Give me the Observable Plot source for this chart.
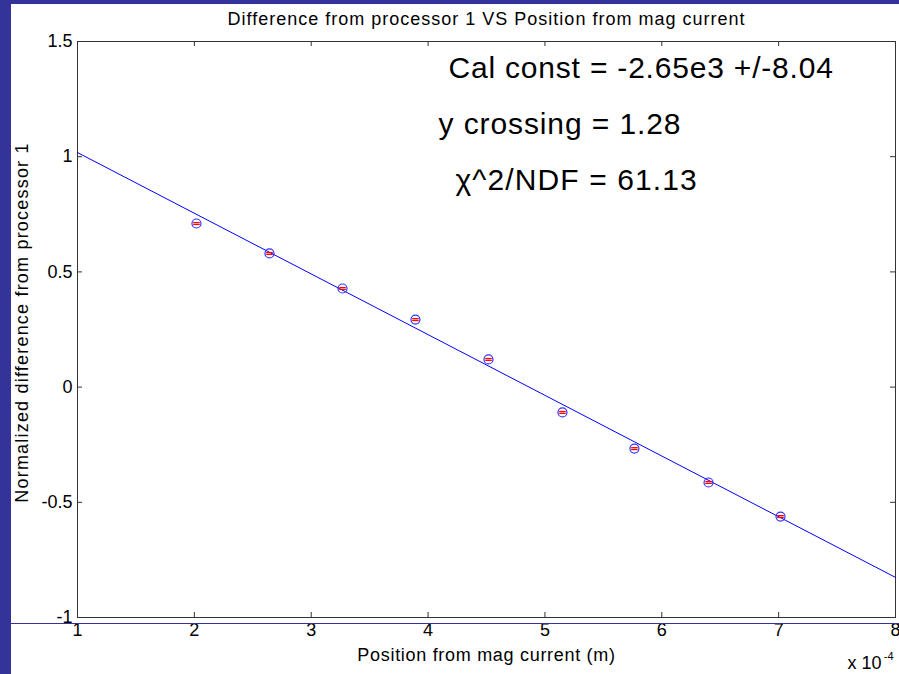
<!DOCTYPE html>
<html>
<head>
<meta charset="utf-8">
<script src="https://cdn.jsdelivr.net/npm/d3@7"></script>
<script src="https://cdn.jsdelivr.net/npm/@observablehq/plot@0.6"></script>
<style>
  html, body { margin: 0; padding: 0; background: #333399; width: 899px; height: 674px; overflow: hidden; }
  #panel { position: absolute; left: 11px; top: 4px; width: 888px; height: 670px; background: #fff; }
  #hline { position: absolute; left: 11px; top: 623px; width: 888px; height: 1px; background: #333399; }
  svg { font-family: "Liberation Sans", Arial, sans-serif; }
</style>
</head>
<body>
<div id="panel"></div>
<div id="hline"></div>
<script>
// Data (x in units of 1e-4 m)
const posX = [2.018, 2.643, 3.268, 3.892, 4.517, 5.150, 5.766, 6.400, 7.016];
const diffY = [0.710, 0.580, 0.428, 0.293, 0.120, -0.110, -0.267, -0.414, -0.562];
const errY = [0.004, 0.004, 0.004, 0.004, 0.004, 0.004, 0.004, 0.004, 0.004];
const fitX = [1, 8];
const fitY = [1.018, -0.826];
const xTicks = [1, 2, 3, 4, 5, 6, 7, 8];
const yTicks = [-1, -0.5, 0, 0.5, 1, 1.5];
const titleText = ["Difference from processor 1 VS Position from mag current"];
const xLabel = ["Position from mag current (m)"];
const yLabel = ["Normalized difference from processor 1"];
const annot1 = ["Cal const = -2.65e3 +/-8.04"];
const annot2 = ["y crossing = 1.28"];
const annot3 = ["\u03C7^2/NDF = 61.13"];

const points = posX.map((x, i) => ({x, y: diffY[i], e: errY[i]}));
const fit = fitX.map((x, i) => ({x, y: fitY[i]}));

const W = 888, H = 670;
const mL = 66, mR = 4, mT = 37, mB = 57;
const pw = W - mL - mR, ph = H - mT - mB;
const axisColor = "#333";

const chart = Plot.plot({
  width: W, height: H,
  marginLeft: mL, marginRight: mR, marginTop: mT, marginBottom: mB,
  style: {fontFamily: "'Liberation Sans', Arial, sans-serif", fontSize: "18px", background: "transparent", overflow: "visible"},
  x: {domain: [1, 8], axis: null},
  y: {domain: [-1, 1.5], axis: null},
  marks: [
    Plot.frame({stroke: axisColor}),
    // inward ticks (MATLAB style)
    Plot.tickX(xTicks, {x: d => d, insetTop: ph - 5, stroke: axisColor}),
    Plot.tickX(xTicks, {x: d => d, insetBottom: ph - 5, stroke: axisColor}),
    Plot.tickY(yTicks, {y: d => d, insetLeft: pw - 5, stroke: axisColor}),
    Plot.tickY(yTicks, {y: d => d, insetRight: pw - 5, stroke: axisColor}),
    Plot.axisX(xTicks, {tickSize: 0, tickPadding: 6, fill: "#000", fontSize: 18, label: null, tickFormat: d => String(d)}),
    Plot.axisY(yTicks, {tickSize: 0, tickPadding: 5, fill: "#000", fontSize: 18, label: null, tickFormat: d => String(d)}),
    // fit line
    Plot.line(fit, {x: "x", y: "y", stroke: "#0000ff", strokeWidth: 1}),
    // error bars (red)
    Plot.link(points, {x1: d => d.x - 0.028, x2: d => d.x + 0.028, y1: d => d.y - d.e, y2: d => d.y - d.e, stroke: "#ff0000", strokeWidth: 1.3}),
    Plot.link(points, {x1: d => d.x - 0.028, x2: d => d.x + 0.028, y1: d => d.y + d.e, y2: d => d.y + d.e, stroke: "#ff0000", strokeWidth: 1.3}),
    Plot.dot(points, {x: "x", y: "y", r: 4.5, stroke: "#3333ff", strokeWidth: 1.2, fill: "none"}),
    // annotations
    Plot.text(annot1, {text: d => d, frameAnchor: "top-left", textAnchor: "start", lineAnchor: "middle", dx: 371, dy: 27, fontSize: 30, fill: "#000"}),
    Plot.text(annot2, {text: d => d, frameAnchor: "top-left", textAnchor: "start", lineAnchor: "middle", dx: 361, dy: 83, fontSize: 30, fill: "#000"}),
    Plot.text(annot3, {text: d => d, frameAnchor: "top-left", textAnchor: "start", lineAnchor: "middle", dx: 378, dy: 139, fontSize: 30, fill: "#000"}),
    // title and labels
    Plot.text(titleText, {text: d => d, frameAnchor: "top", lineAnchor: "middle", dy: -22, fontSize: 18, fill: "#000"}),
    Plot.text(xLabel, {text: d => d, frameAnchor: "bottom", lineAnchor: "bottom", dy: 43, fontSize: 18, fill: "#000"}),
    Plot.text(yLabel, {text: d => d, frameAnchor: "left", textAnchor: "middle", lineAnchor: "middle", dx: -55, dy: -7, rotate: -90, fontSize: 18, fill: "#000"}),
    Plot.text(["x 10"], {text: d => d, frameAnchor: "bottom-right", textAnchor: "end", lineAnchor: "bottom", dx: -14, dy: 51, fontSize: 18, fill: "#000"}),
    Plot.text(["-4"], {text: d => d, frameAnchor: "bottom-right", textAnchor: "end", lineAnchor: "bottom", dx: -2, dy: 42, fontSize: 11, fill: "#000"})
  ]
});
// wider glyph spacing, like the reference rendering
const spacing = new Map([
  [titleText[0], 1.0], [xLabel[0], 0.7], [yLabel[0], 1.2],
  [annot1[0], 0.8], [annot2[0], 0.9], [annot3[0], 1.1]
]);
d3.select(chart).selectAll("text").each(function() {
  const s = spacing.get(this.textContent);
  if (s != null) this.setAttribute("letter-spacing", s);
});
chart.style.position = "absolute";
chart.style.left = "11px";
chart.style.top = "4px";
document.body.insertBefore(chart, document.getElementById("hline"));
</script>
</body>
</html>
